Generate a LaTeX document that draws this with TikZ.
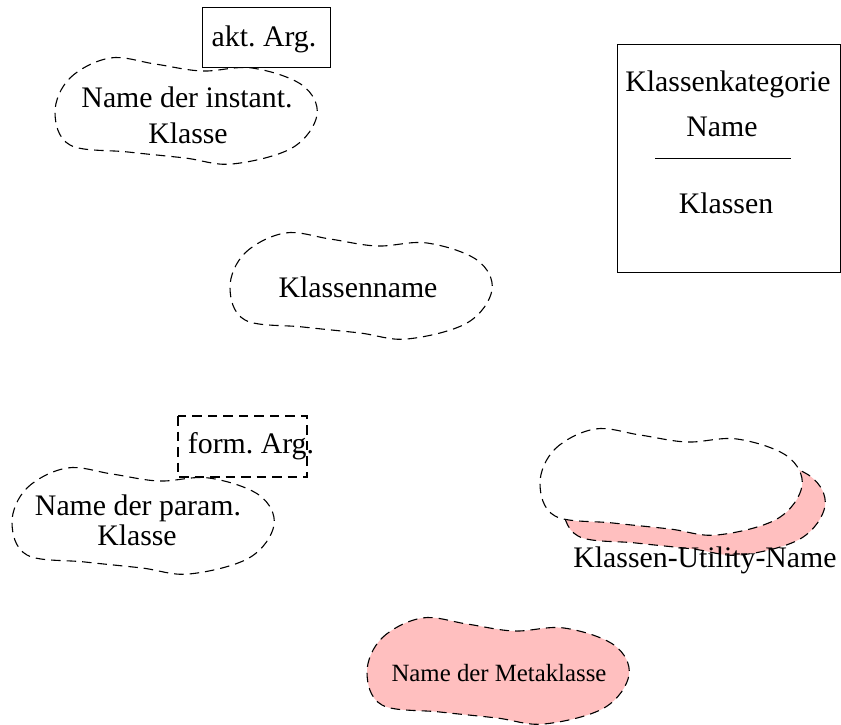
\documentclass[tikz,border=0pt]{standalone}
\usepackage{fontspec}
\setmainfont{Liberation Serif}
\definecolor{shadowpink}{RGB}{255,191,191}
\begin{document}
\frenchspacing
\begin{tikzpicture}[x=1pt,y=-1pt,
  cloudline/.style={draw=black, line width=1.1pt, dash pattern=on 9.5pt off 6pt},
  boxline/.style={draw=black, line width=1pt},
  lbl/.style={inner sep=0pt, anchor=base, font=\fontsize{29.8}{34}\selectfont},
  smalllbl/.style={inner sep=0pt, anchor=base, font=\fontsize{24.8}{29}\selectfont},
  % Booch class cloud, origin at its upper left corner
  bean/.pic={\path[pic actions] plot[smooth cycle, tension=0.6] coordinates
    {(0,55) (15,21) (55,1) (100,7) (147,14) (197,11) (247,28) (262,58)
     (237,91) (177,107) (130,101) (73,95) (15,88)};}
]
\useasboundingbox (0,0) rectangle (841,725);

% instantiated class with actual argument
\pic (inst) [cloudline] at (55,57) {bean};
\draw[boxline, fill=white] (202,8) rectangle (330,68);
\node[lbl] (aktarg) at (264,47) {akt. Arg.};
\node[lbl] (inst1) at (187,107) {Name der instant.};
\node[lbl] (inst2) at (188,143) {Klasse};

% plain class
\pic (cls) [cloudline] at (230,232) {bean};
\node[lbl] (clsname) at (358,297) {Klassenname};

% parameterized class with formal argument
\pic (param) [cloudline] at (12,467) {bean};
\draw[cloudline, fill=white] (178,416) rectangle (307,477);
\node[lbl] (formarg) at (251,453) {form. Arg.};
\node[lbl] (param1) at (138,515) {Name der param.};
\node[lbl] (param2) at (137,545) {Klasse};

% class category
\draw[boxline] (617,45) rectangle (840,272);
\node[lbl] (cat1) at (728,92) {Klassenkategorie};
\node[lbl] (cat2) at (722,136) {Name};
\coordinate (sepl) at (655,158);
\coordinate (sepr) at (791,158);
\draw[boxline] (sepl) -- (sepr);
\node[lbl] (cat3) at (726,213) {Klassen};

% class utility: shadowed cloud
\pic (utilshadow) [cloudline, fill=shadowpink] at (563,448) {bean};
\pic (util) [cloudline, fill=white] at (540,428) {bean};
\node[lbl] (utilname) at (705,567) {Klassen-Utility-Name};

% metaclass
\pic (meta) [cloudline, fill=shadowpink] at (367,617) {bean};
\node[smalllbl] (metaname) at (499,681) {Name der Metaklasse};
\end{tikzpicture}
\end{document}
